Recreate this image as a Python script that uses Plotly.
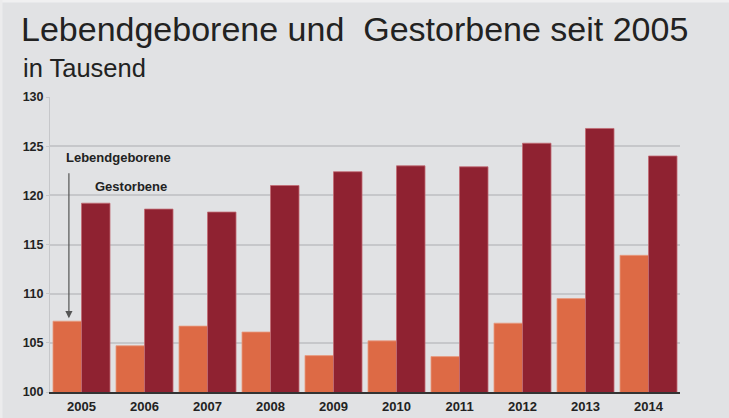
import plotly.graph_objects as go

years = ["2005", "2006", "2007", "2008", "2009", "2010", "2011", "2012", "2013", "2014"]
lebendgeborene = [107.2, 104.7, 106.7, 106.1, 103.7, 105.2, 103.6, 107.0, 109.5, 113.9]
gestorbene = [119.2, 118.6, 118.3, 121.0, 122.4, 123.0, 122.9, 125.3, 126.8, 124.0]
y_ticks = [100, 105, 110, 115, 120, 125, 130]

BG = "#e1e2e4"
FONT = "Liberation Sans, Arial, sans-serif"

fig = go.Figure()
fig.add_bar(x=years, y=lebendgeborene, name="Lebendgeborene",
            marker=dict(color="#dd6a45", line=dict(color="#e99a80", width=0.8)))
fig.add_bar(x=years, y=gestorbene, name="Gestorbene",
            marker=dict(color="#8f2231", line=dict(color="#c26b74", width=0.8)))

fig.update_layout(
    width=729, height=418,
    margin=dict(l=50, r=49, t=97, b=26),
    paper_bgcolor=BG, plot_bgcolor=BG,
    barmode="group", bargap=0.095, bargroupgap=0,
    showlegend=False,
    font=dict(family=FONT, color="#222"),
    title=dict(text="Lebendgeborene und\u00a0 Gestorbene seit 2005",
               x=21/729, xanchor="left", xref="container",
               y=1-17/418, yanchor="top", yref="container",
               font=dict(size=34, color="#222", family=FONT)),
)
fig.update_xaxes(type="category", showgrid=False, ticks="", automargin=False,
                 showline=True, linecolor="#333", linewidth=1.5,
                 tickfont=dict(size=13, color="#222", weight="bold"),
                 ticklabelstandoff=2)
fig.update_yaxes(range=[100, 130], tickvals=y_ticks, showgrid=True, automargin=False,
                 gridcolor="#c6c7ca", gridwidth=1.5, zeroline=False,
                 showline=True, linecolor="#c6c7ca", linewidth=1,
                 ticks="outside", ticklen=3, tickcolor="#c6c7ca",
                 tickfont=dict(size=12.5, color="#222", weight="bold"))

fig.add_annotation(text="in Tausend", xref="paper", yref="paper",
                   x=-29/630, y=(392-68)/295, xanchor="left", yanchor="middle",
                   showarrow=False, font=dict(size=25.5, color="#222"))
fig.add_annotation(text="<b>Lebendgeborene</b>", xref="x", yref="y",
                   x=0.58, y=123.8, showarrow=False,
                   font=dict(size=13, color="#222"))
fig.add_annotation(text="<b>Gestorbene</b>", xref="x", yref="y",
                   x=0.79, y=120.9, showarrow=False,
                   font=dict(size=13, color="#222"))
fig.add_annotation(text="", xref="x", yref="y", axref="x", ayref="y",
                   x=-0.2, y=107.5, ax=-0.2, ay=122.4,
                   showarrow=True, arrowhead=2, arrowsize=1.2, arrowwidth=1.2,
                   arrowcolor="#555")

# light frame along the top and left edges, as in the source image
fig.add_shape(type="line", xref="paper", yref="paper",
              x0=-50/630, x1=1 + 49/630, y0=1 + 96/295, y1=1 + 96/295,
              line=dict(color="#f0f0f1", width=3))
fig.add_shape(type="line", xref="paper", yref="paper",
              x0=-49/630, x1=-49/630, y0=-26/295, y1=1 + 97/295,
              line=dict(color="#ececed", width=3))

fig.write_html("out.html", config={"displayModeBar": False},
               post_script="document.body.style.margin='0';document.body.style.background='%s';" % BG)
